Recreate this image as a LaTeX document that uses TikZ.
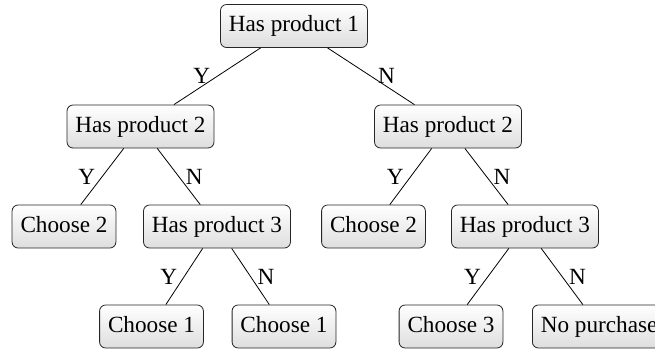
\documentclass[tikz,border=0pt]{standalone}
\usepackage{fontspec}
\setmainfont{Liberation Serif}
\usetikzlibrary{calc,positioning}
\tikzset{
	decision tree/.style={
		x=.5pt, y=-.5pt,
		font=\fontsize{11.6}{13}\selectfont,
		thin,
		yes/.style={midway,left},
		no/.style={midway,right},
		},
	dbox/.style={draw=black!85, thin, rounded corners=3pt,
		top color=white, bottom color=black!13,
		inner xsep=4.2pt, minimum height=21.5pt,
		text height=8pt, text depth=2.5pt},
}

\begin{document}
\begin{tikzpicture}[decision tree]
   \useasboundingbox (0,0) rectangle (655,350);
   \node[dbox] (p1) at (294,26) {Has product 1};
   \node[dbox] (p2a) at (140.5,126.5) {Has product 2};
   \node[dbox] (p2b) at (448,126.5) {Has product 2};
   \node[dbox] (c2a) at (64,226.5) {Choose 2};
   \node[dbox] (p3a) at (217,226.5) {Has product 3};
   \node[dbox] (c2b) at (373.5,226.5) {Choose 2};
   \node[dbox] (p3b) at (525,226.5) {Has product 3};
   \node[dbox] (c1a) at (151.5,326.5) {Choose 1};
   \node[dbox] (c1b) at (284,326.5) {Choose 1};
   \node[dbox] (c3) at (451,326.5) {Choose 3};
   \node[dbox,anchor=west] (nop) at (532,326.5) {No purchase};
   \draw (p1) -- node[yes] {Y} (p2a);
   \draw (p1) -- node[no] {N} (p2b);
   \draw (p2a) -- node[yes] {Y} (c2a);
   \draw (p2a) -- node[no] {N} (p3a);
   \draw (p2b) -- node[yes] {Y} (c2b);
   \draw (p2b) -- node[no] {N} (p3b);
   \draw (p3a) -- node[yes] {Y} (c1a);
   \draw (p3a) -- node[no] {N} (c1b);
   \draw (p3b) -- node[yes] {Y} (c3);
   \draw (p3b) -- node[no] {N} (nop);
\end{tikzpicture}
\end{document}
